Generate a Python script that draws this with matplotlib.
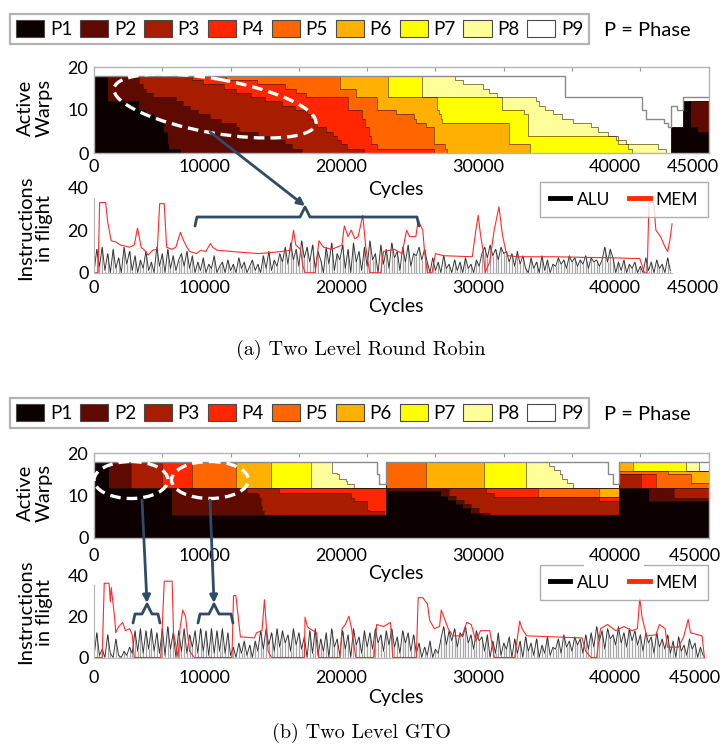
import numpy as np
import matplotlib
matplotlib.use("Agg")
import matplotlib.pyplot as plt
import matplotlib.transforms as mtransforms
from matplotlib.patches import Ellipse, Patch
from matplotlib.lines import Line2D

plt.rcParams['font.family'] = ['Lato', 'DejaVu Sans']

W, H = 722, 746  #! pixel size of the figure

PHASES = ['P1', 'P2', 'P3', 'P4', 'P5', 'P6', 'P7', 'P8', 'P9']
PHASE_COLORS = ['#0c0000', '#5e0a00', '#a81c00', '#ff2600', '#ff6600',
                '#ffb000', '#ffff00', '#ffff99', '#ffffff']

# ---- (a) Two Level Round Robin: cumulative warp count at top of each phase
# each entry: (cycle, warps) -> value holds from that cycle on
RR_TOP = [
    [(0, 18), (1000, 12), (3300, 10), (3800, 9), (4500, 8), (5100, 5), (5400, 2), (5500, 1), (6400, 0),
     (42250, 6), (43100, 12), (43700, 6), (44200, 5)],
    [(0, 18), (3300, 16), (3600, 15), (3800, 14), (4300, 13), (6000, 12), (6500, 11), (7000, 10), (7600, 9),
     (8500, 8), (9300, 7), (10400, 6), (10600, 5), (12000, 4), (13500, 3), (14000, 2), (14500, 1), (15200, 0),
     (42250, 6), (43100, 12)],
    [(0, 18), (7200, 17), (8000, 16), (9500, 15), (10400, 14), (11500, 13), (12500, 12), (13800, 11), (14700, 10),
     (15600, 9), (15800, 8), (16000, 7), (16300, 6), (17000, 5), (17500, 4), (17800, 3), (18100, 2), (18500, 1),
     (19800, 0), (42250, 6), (43100, 12)],
    [(0, 18), (9700, 17), (11900, 16), (14000, 15), (14800, 14), (15500, 13), (18600, 10), (19600, 8), (19850, 6),
     (20100, 4), (20300, 2), (20700, 1), (24900, 0), (42250, 6), (43100, 12)],
    [(0, 18), (18000, 15), (19200, 13), (20700, 10), (22100, 9), (23400, 8), (23550, 7), (24300, 6), (24900, 2),
     (25700, 1), (25850, 0), (42250, 6), (43100, 12)],
    [(0, 18), (21500, 13), (25100, 10), (25250, 9), (25400, 8), (25500, 7), (30400, 2), (31900, 0),
     (42250, 6), (43100, 12)],
    [(0, 18), (24000, 13), (29900, 10), (31500, 9), (31750, 4), (38200, 3), (38400, 2), (39100, 1), (39400, 0),
     (42250, 6), (43100, 12)],
    [(0, 18), (26450, 17), (27050, 16), (28500, 15), (28900, 14), (29500, 13), (32350, 12), (32600, 11),
     (33000, 10), (33600, 9), (34300, 8), (35050, 7), (36400, 6), (36900, 5), (37600, 4), (38350, 3),
     (38950, 2), (41300, 1), (41900, 0), (42250, 6), (43100, 12)],
    [(0, 18), (34500, 13), (40150, 10), (40400, 8), (41700, 7), (42000, 6), (42250, 11), (42700, 10), (43100, 13)],
]

# ---- (b) Two Level GTO
GTO_TOP = [
    [(0, 18), (1100, 11.8), (5700, 5.5), (21370, 11), (25400, 10), (25900, 9), (26500, 8), (27000, 7),
     (27600, 6), (28400, 5.5), (38470, 11.8), (40670, 8.7)],
    [(0, 18), (2700, 11.8), (11200, 10.7), (11950, 10.3), (12100, 9.5), (12200, 7.5), (12330, 6.3),
     (12450, 5.5), (21370, 11.8), (26000, 10), (26500, 9), (27100, 8), (27600, 7), (28200, 6), (29000, 5.5),
     (38470, 11.8), (42500, 9.5)],
    [(0, 18), (5000, 11.8), (13550, 10.7), (18800, 9.5), (19040, 8.7), (20020, 6.7), (20140, 6.3),
     (21240, 5.5), (21370, 11.8), (28700, 10.7), (29300, 9.6), (37000, 8.7), (38470, 15), (40060, 11.8)],
    [(0, 18), (7200, 11.8), (32500, 9.6), (38470, 15), (41150, 11.8)],
    [(0, 18), (10370, 11.8), (21370, 18), (24300, 11.8), (37000, 9.6), (38470, 15.8), (42000, 15), (43700, 13)],
    [(0, 18), (12940, 11.8), (21370, 18), (28570, 11.8), (38470, 18), (39440, 15.8)],
    [(0, 18), (15870, 11.8), (21370, 18), (31630, 11.8), (38470, 18), (43350, 15.8)],
    [(0, 18), (17450, 15.4), (17820, 15), (17940, 13.8), (18430, 13.4), (18550, 12.6), (19040, 11.8),
     (21370, 18), (33340, 17), (33700, 16), (34100, 15), (34300, 14), (34600, 13), (35050, 11.8),
     (38470, 18), (44330, 15.8)],
    [(0, 18), (20750, 15), (20900, 12.6), (21370, 18), (37600, 15), (38000, 12.6), (38470, 18)],
]

# ---- instructions in flight, ALU sampled every 200 cycles
ALU_STEP = 200
RR_ALU = [0, 11,
          3, 12, 1, 9, 0, 11, 2, 7, 0, 12, 4, 10, 1,
          8, 0, 6, 2, 10, 1, 5,
          0, 12, 3, 9, 0, 11, 2, 8,
          1, 6, 9, 3, 10, 2, 8,
          0, 5, 1, 7, 0, 4, 2, 8, 0, 3,
          5, 0, 6, 1, 4, 0, 7, 2, 5, 0, 3, 6, 1, 4,
          0, 8, 2, 10, 1, 6, 3, 9,
          5, 12, 4, 14, 6, 11, 3, 15, 7, 12, 5, 13, 2, 10, 6,
          0, 12, 4, 14, 1, 9, 6, 13, 2, 11, 0, 14, 5, 10, 1, 12, 3, 15, 6, 9, 0, 13, 4, 11, 2, 14, 7, 10, 1, 12,
          5, 13, 3, 9,
          8, 12, 6, 11, 5,
          0, 7, 1, 5, 0, 8, 2, 4, 0, 6,
          1, 5, 0, 7, 2, 4, 0, 6, 3,
          9, 12, 7, 13, 8, 11, 6, 12, 9, 10,
          5, 9, 3, 10, 4, 8, 2,
          0, 7, 2, 5, 0, 8, 1, 6, 0, 4,
          3, 7, 4, 6, 2, 8, 5, 7, 3, 6, 4, 8, 2, 7, 5, 6, 3,
          6, 12, 5, 11, 7,
          0, 5, 1, 6, 0, 4, 2, 5, 0,
          3, 0, 7, 1, 5, 0, 6, 2, 4, 0, 7, 1]
GTO_ALU = [0, 12,
           1, 4, 0, 11, 2, 0, 9, 1,
           0, 3, 1, 5,
           2, 13, 3, 14, 2, 13, 4, 14, 3, 12, 2,
           14, 1, 15, 4, 12, 0, 13, 3, 14, 2, 11, 5,
           13, 2, 14, 3, 13, 1, 14, 2, 13, 3, 14, 2, 12, 1,
           5, 0, 7, 2, 8, 1, 6, 0, 8, 3,
           13, 4, 14, 6, 12, 3, 14, 5, 13, 7, 11, 3, 14, 6, 12, 4,
           10, 0, 13, 2, 14, 1, 9,
           3, 12, 0, 14, 5, 9, 1, 13, 4, 11, 0, 14, 6, 10, 2, 13, 5,
           12, 4, 14, 7, 11, 3, 13, 6, 14, 5, 10, 2, 13, 7, 12, 3, 11,
           2, 7, 0, 5, 1, 8, 0, 4, 2,
           9, 15, 6, 13, 8, 14, 5, 12, 10, 15, 7, 11, 4, 13, 8, 10,
           3, 11, 0, 8, 2, 12, 1, 7, 4, 10, 0, 9,
           2, 8, 0, 10, 3, 7, 1, 9, 0, 6, 2, 10, 1, 5,
           4, 9, 2, 11, 5, 8, 3, 10, 6, 9, 2, 11, 4,
           12, 5, 15, 8, 13, 4, 14, 9, 11, 6, 15, 7, 12, 5, 14, 8, 13,
           6, 11, 3, 12, 7, 10, 2, 12, 5, 9, 4, 11,
           2, 8, 0, 10, 3, 6, 1, 9, 4, 7, 0, 5, 1]

RR_MEM_X = [0, 300, 413, 852, 1000, 1258, 1600, 1934, 2300, 2600, 2948, 3185, 3455, 3700, 3962, 4300, 4638,
            4807, 5145, 5314, 5700, 5990, 6328, 6497, 6800, 7004, 7511, 7800, 8187, 8525, 8694, 9000, 10046,
            11000, 12074, 13000, 13764, 14400, 14609, 14778, 15116, 15300, 15454, 16200, 16468, 16806, 17400,
            18158, 18327, 18600, 18834, 19100, 19341, 19679, 19900, 20186, 21000, 21200, 22000, 22552, 22890,
            23100, 23566, 23735, 24073, 24200, 24411, 24749, 25000, 25594, 27700, 27960, 28129, 28298, 28500,
            28636, 28974, 29300, 29650, 29900, 30157, 30326, 31000, 33706, 36000, 38100, 39500, 39959, 40297,
            40500, 40635, 40973, 41142, 41480, 41818, 42000, 42156, 42325]
RR_MEM_Y = [0, 0, 33, 33, 24, 15, 14.5, 13, 12.5, 12, 13, 21, 12, 10.6, 8.3, 10.6, 11,
            32.5, 32.5, 12, 11, 12, 19, 16, 12, 10, 9, 10.5, 10, 13.7, 12, 10.6, 10,
            9.5, 9, 9.5, 10, 10.6, 20, 13, 11, 3, 0, 0, 15, 12, 11,
            13, 22, 17, 20, 16, 17, 27, 12, 0, 0, 10, 11, 9, 20,
            17, 17, 24.7, 20, 10, 0, 0, 9, 8, 7.5, 20, 27, 18, 10,
            0, 5, 20, 31, 18, 10, 8, 7.5, 7.5, 7.2, 7, 6.7, 6.7, 0,
            0, 33, 33, 20, 17, 12, 10, 15, 23]

GTO_MEM_X = [0, 600, 751, 1100, 1200, 1258, 1500, 1596, 1800, 2103, 2300, 2610, 2800, 2948, 4900, 5145,
             5720, 5821, 6159, 6300, 6497, 6700, 6835, 7004, 7342, 10100, 10215, 10384, 10722, 11736, 11905,
             12300, 12480, 12750, 13000, 15400, 15454, 15623, 15792, 16300, 16468, 18000, 18158, 18400, 18665,
             18834, 19172, 20500, 20693, 21200, 21707, 21876, 23600, 23735, 24073, 24411, 24580, 24918, 25300,
             25425, 25594, 25932, 26270, 26946, 27284, 27622, 27960, 28298, 28974, 29312, 30800, 31171, 31340,
             31678, 33706, 35734, 36000, 36400, 36800, 37086, 37600, 38200, 38800, 39400, 39790, 39959, 40128,
             40466, 41142, 41400, 41818, 41987, 42800, 43170, 43508, 43677, 44522, 44691]
GTO_MEM_Y = [0, 0, 36, 36, 27, 34, 20, 12, 15, 17, 13, 14, 11, 0, 0, 37,
             37, 12, 0, 14, 23, 20, 12, 3, 0, 0, 30, 30, 10, 9.5, 12,
             13, 28, 3, 0, 0, 19.5, 15, 14, 12, 0, 0, 14, 16, 20,
             15, 0, 0, 16, 15, 17, 0, 0, 29, 29, 26, 18, 14, 15,
             23, 20, 14, 10.5, 10.5, 17, 16, 8, 13, 13, 0, 0, 17.7, 14,
             10.5, 10, 9.5, 3, 0, 0, 14, 16, 13, 15, 13, 14, 29, 19.5,
             10.5, 11, 16, 14, 5, 5, 10, 18.5, 12, 10.5, 0]

X_TICKS_TOP = [0, 5000, 10000, 15000, 20000, 25000, 30000, 35000, 40000, 45000]
X_LABELS_TOP = ['0', '', '10000', '', '20000', '', '30000', '', '40000', '45000']
X_TICKS_LOW = [0, 10000, 20000, 30000, 40000, 45000]
X_LABELS_LOW = ['0', '10000', '20000', '30000', '40000', '45000']

fig = plt.figure(figsize=(W / 100, H / 100), dpi=100)


def rect(left, top, right, bottom):
    return [left / W, 1 - bottom / H, (right - left) / W, (bottom - top) / H]


def fx(x):
    return x / W


def fy(y):
    return 1 - y / H


def step_vals(pts, grid):
    xs = np.array([p[0] for p in pts], float)
    vs = np.array([p[1] for p in pts], float)
    return vs[np.searchsorted(xs, grid, side='right') - 1]


def style_xlabels(ax, last_dx):
    #? labels sit to the left of their tick, like the original
    for lab in ax.get_xticklabels():
        if lab.get_text() == '0':
            lab.set_horizontalalignment('center')
        else:
            lab.set_horizontalalignment('right')
        if lab.get_text() == '45000':
            off = mtransforms.ScaledTranslation(last_dx / 100, 0, fig.dpi_scale_trans)
            lab.set_transform(lab.get_transform() + off)
        if lab.get_text() == '40000':
            lab.set_bbox(dict(facecolor='white', edgecolor='none', pad=3))


def warps_panel(pos, tops, pad, last_dx):
    ax = fig.add_axes(pos, zorder=3)
    grid = np.unique(np.concatenate([[p[0] for p in b] for b in tops] + [[45000]]))
    prev = np.zeros(len(grid))
    lines = []
    for k, b in enumerate(tops):
        t = np.maximum(step_vals(b, grid), prev)
        ax.fill_between(grid, prev, t, step='post', facecolor=PHASE_COLORS[k], edgecolor='none', lw=0)
        lines.append(t)
        prev = t
    for t in lines[:-1]:
        ax.step(grid, t, where='post', color='#3a1600', lw=0.6, alpha=0.65)
    ax.step(grid, lines[-1], where='post', color='#8a8a8a', lw=1.0)
    ax.set_xlim(0, 45000)
    ax.set_ylim(0, 20)
    ax.set_yticks([0, 10, 20])
    ax.set_xticks(X_TICKS_TOP)
    ax.set_xticklabels(X_LABELS_TOP)
    ax.tick_params(axis='x', direction='in', top=True, bottom=False, length=3, color='#9a9a9a',
                   labelsize=13, pad=pad)
    ax.tick_params(axis='y', length=0, labelsize=13, pad=4)
    for s in ax.spines.values():
        s.set_color('#b4b4b4')
        s.set_linewidth(1.0)
    style_xlabels(ax, last_dx)
    return ax


def flight_panel(pos, alu, mem_x, mem_y, pad, last_dx, end, legend_top):
    ax = fig.add_axes(pos, zorder=2)
    ax.patch.set_alpha(0)
    xa = np.arange(len(alu)) * ALU_STEP
    ax.vlines(xa, 0, alu, color='#a8a8a8', lw=0.9)
    ax.plot(xa, alu, color='#303030', lw=0.65)
    ax.plot(mem_x, mem_y, color='#ff2a2a', lw=0.8)
    ax.set_xlim(0, 45000)
    ax.set_ylim(0, 40)
    ax.set_yticks([0, 20, 40])
    ax.set_xticks(X_TICKS_LOW)
    ax.set_xticklabels(X_LABELS_LOW)
    ax.tick_params(axis='both', length=0, labelsize=13)
    ax.tick_params(axis='x', pad=pad)
    ax.tick_params(axis='y', pad=4)
    ax.spines['top'].set_visible(False)
    ax.spines['right'].set_visible(False)
    ax.spines['left'].set_color('#b4b4b4')
    ax.spines['left'].set_bounds(0, 35)
    ax.spines['bottom'].set_color('#bdbdbd')
    ax.spines['bottom'].set_bounds(0, end)
    style_xlabels(ax, last_dx)
    handles = [Line2D([], [], color='black', lw=3.5), Line2D([], [], color='#ff2a00', lw=3.5)]
    ax.legend(handles, ['ALU', 'MEM'], ncol=2, loc='upper left', bbox_to_anchor=(fx(540), fy(legend_top)),
              bbox_transform=fig.transFigure, frameon=True, fancybox=False, edgecolor='#9a9a9a',
              fontsize=12.5, handlelength=1.2, handletextpad=0.35, columnspacing=1.1, borderpad=0.55,
              borderaxespad=0)
    return ax


def phase_legend(top):
    handles = [Patch(facecolor=c, edgecolor='#4a4a4a', lw=0.8) for c in PHASE_COLORS]
    leg = fig.legend(handles, PHASES, ncol=9, loc='upper left', bbox_to_anchor=(fx(10), fy(top)),
                     frameon=True, fancybox=False, edgecolor='#a0a0a0', fontsize=13.5,
                     handlelength=1.5, handleheight=1.0, handletextpad=0.3, columnspacing=0.42,
                     borderpad=0.32, borderaxespad=0)
    leg.get_frame().set_linewidth(1.6)
    fig.text(fx(604), fy(top + 16), 'P = Phase', fontsize=14.5, va='center', ha='left')


# ----- panel (a)
phase_legend(14)
warps_panel(rect(94, 67, 708.6, 153), RR_TOP, pad=4, last_dx=10)
flight_panel(rect(94, 187.7, 708.6, 272.7), RR_ALU, RR_MEM_X, RR_MEM_Y, pad=5, last_dx=10, end=42325,
             legend_top=182)
fig.text(fx(35), fy(108), 'Active\nWarps', rotation=90, ha='center', va='center', fontsize=14.5,
         linespacing=1.1)
fig.text(fx(35), fy(228), 'Instructions\nin flight', rotation=90, ha='center', va='center', fontsize=14.5,
         linespacing=1.1)
fig.text(fx(396), fy(190), 'Cycles', ha='center', va='center', fontsize=14)
fig.text(fx(396), fy(307), 'Cycles', ha='center', va='center', fontsize=14)
fig.text(fx(361), fy(350), '(a) Two Level Round Robin', ha='center', va='center', fontfamily='cmr10',
         fontsize=14.5)

# ----- panel (b)
phase_legend(398)
warps_panel(rect(94, 453, 708.6, 538), GTO_TOP, pad=7, last_dx=12)
flight_panel(rect(94, 575, 708.6, 657.5), GTO_ALU, GTO_MEM_X, GTO_MEM_Y, pad=9, last_dx=12, end=44700,
             legend_top=565)
fig.text(fx(35), fy(493), 'Active\nWarps', rotation=90, ha='center', va='center', fontsize=14.5,
         linespacing=1.1)
fig.text(fx(35), fy(612), 'Instructions\nin flight', rotation=90, ha='center', va='center', fontsize=14.5,
         linespacing=1.1)
fig.text(fx(396), fy(573), 'Cycles', ha='center', va='center', fontsize=14)
fig.text(fx(396), fy(697), 'Cycles', ha='center', va='center', fontsize=14)
fig.text(fx(361), fy(733), '(b) Two Level GTO', ha='center', va='center', fontfamily='cmr10', fontsize=14.5)

# ----- annotations (pixel coordinates overlay)
ov = fig.add_axes([0, 0, 1, 1], zorder=20)
ov.set_xlim(0, W)
ov.set_ylim(H, 0)
ov.axis('off')
ov.patch.set_alpha(0)
ARROW = '#2f4b68'
dash = (0, (3.2, 1.8))
ov.add_patch(Ellipse((215, 106), 205, 54, angle=10, fill=False, edgecolor='white', lw=2.4, linestyle=dash))
ov.add_patch(Ellipse((131, 480), 74, 37, fill=False, edgecolor='white', lw=2.4, linestyle=dash))
ov.add_patch(Ellipse((210, 480), 77, 37, fill=False, edgecolor='white', lw=2.4, linestyle=dash))


def arrow(x0, y0, x1, y1):
    ov.annotate('', xy=(x1, y1), xytext=(x0, y0),
                arrowprops=dict(arrowstyle='-|>', color=ARROW, lw=2, mutation_scale=11, shrinkA=0, shrinkB=0))


def bracket(x0, x1, xm, ybar, ytip, yend):
    ov.plot([x0, x0 + 2, xm - 5, xm, xm + 5, x1 - 2, x1], [yend, ybar, ybar, ytip, ybar, ybar, yend],
            color=ARROW, lw=2, solid_joinstyle='round', solid_capstyle='round')


arrow(210, 132, 305, 206)
bracket(195, 419, 305, 217, 207, 226)
arrow(142, 500, 147, 603)
arrow(210, 500, 214, 603)
bracket(133, 160, 147, 614, 604, 623)
bracket(198, 233, 214, 614, 604, 623)

fig.savefig('out.png', dpi=100)
